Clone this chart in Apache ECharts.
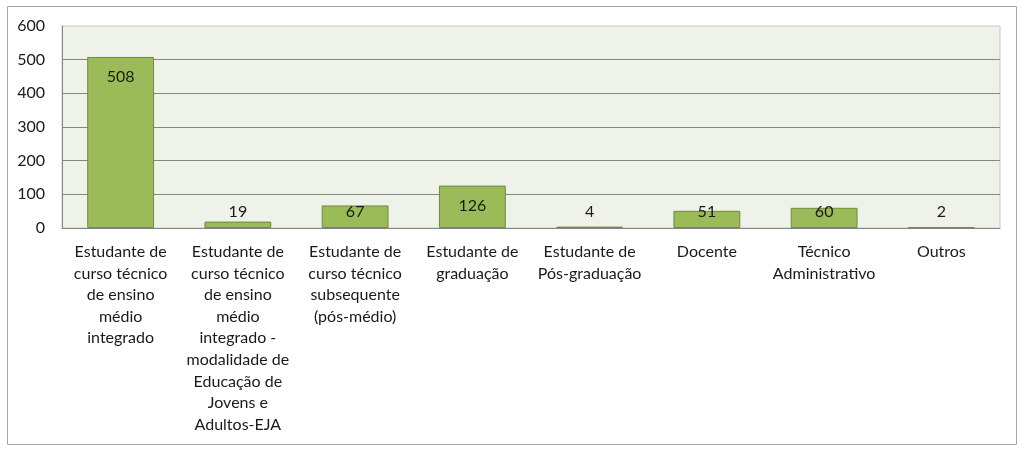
<!DOCTYPE html>
<html>
<head>
<meta charset="utf-8">
<script src="https://cdn.jsdelivr.net/npm/echarts@6/dist/echarts.min.js"></script>
<style>
html,body{margin:0;padding:0;background:#fff;}
#c{width:1024px;height:453px;}
</style>
</head>
<body>
<div id="c"></div>
<script>
const categories = [
  "Estudante de\ncurso técnico\nde ensino\nmédio\nintegrado",
  "Estudante de\ncurso técnico\nde ensino\nmédio\nintegrado -\nmodalidade de\nEducação de\nJovens e\nAdultos-EJA",
  "Estudante de\ncurso técnico\nsubsequente\n(pós-médio)",
  "Estudante de\ngraduação",
  "Estudante de\nPós-graduação",
  "Docente",
  "Técnico\nAdministrativo",
  "Outros"
];
const values = [508, 19, 67, 126, 4, 51, 60, 2];
const yMin = 0, yMax = 600, yStep = 100;

const FONT = 'Lato';
const chart = echarts.init(document.getElementById('c'));
chart.setOption({
  animation: false,
  graphic: [{
    type: 'rect', shape: {x: 7.5, y: 6.5, width: 1009, height: 438},
    style: {fill: 'none', stroke: '#a6a6a6', lineWidth: 1}, silent: true
  }],
  grid: {left: 62, top: 26, width: 938, height: 202, show: true,
         backgroundColor: '#eff2e9', borderColor: '#c8c8c8', borderWidth: 1,
         outerBoundsMode: 'none', containLabel: false},
  xAxis: {
    type: 'category', data: categories,
    axisLine: {lineStyle: {color: '#868686'}},
    axisTick: {show: false},
    axisLabel: {interval: 0, color: '#1a1a1a', fontFamily: FONT, fontSize: 16,
                lineHeight: 21.6, margin: 13, align: 'center'}
  },
  yAxis: {
    type: 'value', min: yMin, max: yMax, interval: yStep,
    axisLine: {show: true, lineStyle: {color: '#868686'}},
    axisTick: {show: false},
    splitLine: {show: true, showMaxLine: false, lineStyle: {color: '#868686'}},
    axisLabel: {color: '#1a1a1a', fontFamily: FONT, fontSize: 16, margin: 17}
  },
  series: [{
    type: 'bar', barCategoryGap: '43%',
    data: values.map(v => ({
      value: v,
      label: v < 100 ? {position: 'insideBottom', distance: 7} : {position: 'insideTop', distance: 11}
    })),
    itemStyle: {color: '#9bbb59', borderColor: '#71893f', borderWidth: 1},
    label: {show: true, color: '#1a1a1a', fontFamily: FONT, fontSize: 16, lineHeight: 18}
  }]
});
</script>
</body>
</html>
